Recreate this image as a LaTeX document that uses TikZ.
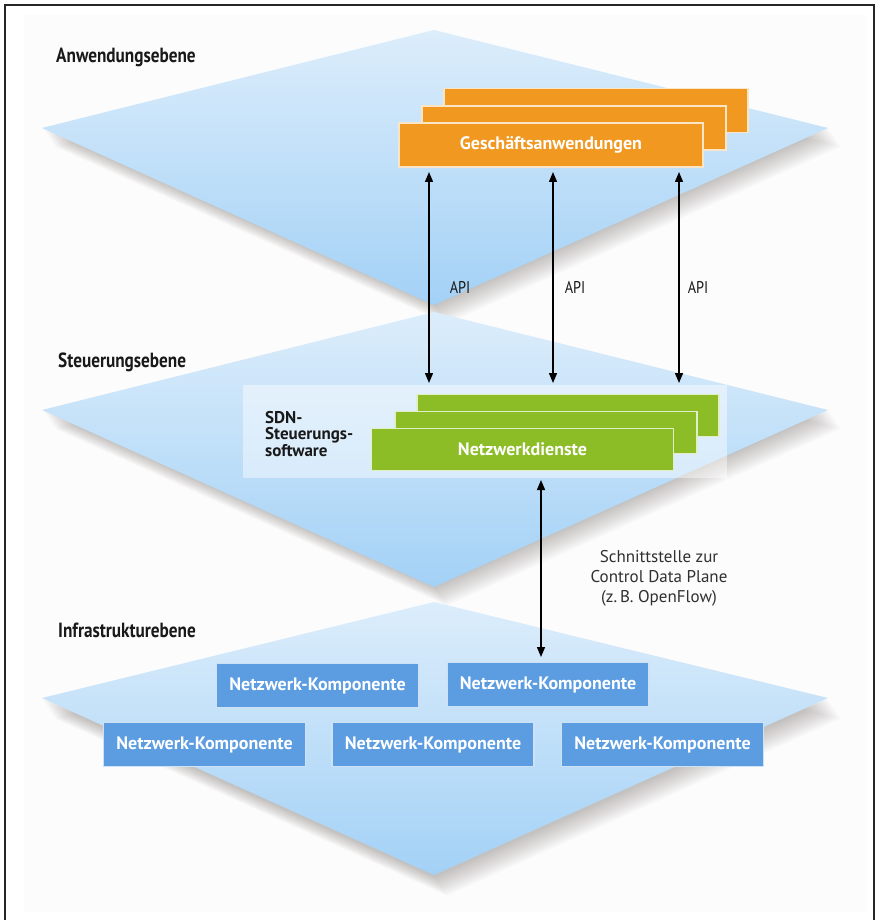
\documentclass[tikz,border=0pt]{standalone}
\usepackage{fontspec}
\setmainfont{PT Sans}
\newfontfamily\condfont[FakeStretch=0.84]{PT Sans}
\usetikzlibrary{arrows.meta,calc}
\definecolor{lyrtop}{RGB}{220,237,251}
\definecolor{lyrbot}{RGB}{163,209,246}
\definecolor{orangeC}{RGB}{240,152,32}
\definecolor{greenC}{RGB}{140,189,38}
\definecolor{blueC}{RGB}{92,157,226}
\definecolor{txt}{RGB}{25,25,25}
\definecolor{panelbg}{RGB}{252,252,252}
\definecolor{shadowC}{RGB}{90,80,70}
\begin{document}
\begin{tikzpicture}[x=1pt,y=-1pt,
  layer/.style={top color=lyrtop, bottom color=lyrbot},
  shade step/.style={fill=shadowC, fill opacity=0.028},
  title/.style={anchor=west, inner sep=0pt, text=txt, font=\condfont\bfseries\fontsize{20.5}{22}\selectfont},
  bx/.style={line width=1.2pt, inner sep=0pt, text=white, font=\bfseries\fontsize{18}{20}\selectfont},
  obox/.style={bx, draw=white!75!orangeC, fill=orangeC, minimum width=304pt, minimum height=44pt},
  gbox/.style={bx, draw=white!75!greenC, fill=greenC, minimum width=302pt, minimum height=42pt},
  nbox/.style={bx, draw=white!70!blueC, fill=blueC, minimum width=202pt, minimum height=44pt},
  dbl/.style={{Triangle[length=10pt,width=8pt]}-{Triangle[length=10pt,width=8pt]}, line width=1.4pt, black},
  lbl/.style={inner sep=0pt, text=txt, font=\condfont\fontsize{17}{18}\selectfont},
  note/.style={inner sep=0pt, text=txt!90, align=center, font=\fontsize{17}{20}\selectfont}
]
\useasboundingbox (0,0) rectangle (879,920);
\fill[white] (0,0) rectangle (879,920);
\fill[panelbg] (24,15) rectangle (866,912);
\draw[line width=2pt, black!85] (5,925) -- (5,5) -- (874,5) -- (874,925);

% soft shadows of the layers
\foreach \t in {30,312,602}{
  \foreach \i in {1,...,13}{
    \fill[shade step] ($(434,\t)+(\i*1.0,\i*1.5)$) -- ($(828,\t+97)+(\i*1.0,\i*1.5)$)
      -- ($(434,\t+274)+(\i*1.0,\i*1.5)$) -- ($(42,\t+97)+(\i*1.0,\i*1.5)$) -- cycle;
  }
}

% layers
\path[layer] (434,30) -- (828,128) -- (434,305) -- (42,128) -- cycle;
\path[layer] (434,312) -- (828,410) -- (434,587) -- (42,410) -- cycle;
\path[layer] (434,602) -- (828,698) -- (434,875) -- (42,698) -- cycle;

% titles
\node[title] (tApp) at (56,57) {Anwendungsebene};
\node[title] (tCtl) at (58,362) {Steuerungsebene};
\node[title] (tInf) at (58,630) {Infrastrukturebene};

% application boxes
\node[obox] (app3) at (596,110.5) {};
\node[obox] (app2) at (574,128) {};
\node[obox] (app1) at (551,145) {Geschäftsanwendungen};

% SDN panel
\node[fill=white, fill opacity=0.45, minimum width=484pt, minimum height=93pt, inner sep=0pt] (panel) at (485,431.5) {};
\node[anchor=west, align=left, inner sep=0pt, text=txt, font=\bfseries\fontsize{17}{16.5}\selectfont] (sdn) at (265,434) {SDN-\\Steuerungs-\\software};
\node[gbox] (svc3) at (568,415.5) {};
\node[gbox] (svc2) at (546,432.5) {};
\node[gbox] (svc1) at (522.5,449.5) {Netzwerkdienste};

% infrastructure boxes
\node[nbox] (nkA) at (317.5,685.5) {Netzwerk-Komponente};
\node[nbox] (nkB) at (548,684.5) {Netzwerk-Komponente};
\node[nbox] (nkC) at (204.5,744.5) {Netzwerk-Komponente};
\node[nbox] (nkD) at (433,744.5) {Netzwerk-Komponente};
\node[nbox] (nkE) at (662.5,744.5) {Netzwerk-Komponente};

% API connectors
\coordinate (a1t) at (429,172); \coordinate (a1b) at (429,383);
\coordinate (a2t) at (553,172); \coordinate (a2b) at (553,383);
\coordinate (a3t) at (679,172); \coordinate (a3b) at (679,383);
\draw[dbl] (a1t) -- (a1b);
\draw[dbl] (a2t) -- (a2b);
\draw[dbl] (a3t) -- (a3b);
\node[lbl] (api1) at (460,287) {API};
\node[lbl] (api2) at (575,287) {API};
\node[lbl] (api3) at (698,287) {API};

% southbound connector
\coordinate (sbT) at (541,480); \coordinate (sbB) at (541,657);
\draw[dbl] (sbT) -- (sbB);
\node[note] (sb) at (659,578) {Schnittstelle zur\\Control Data Plane\\(z.\,B. OpenFlow)};
\end{tikzpicture}
\end{document}
